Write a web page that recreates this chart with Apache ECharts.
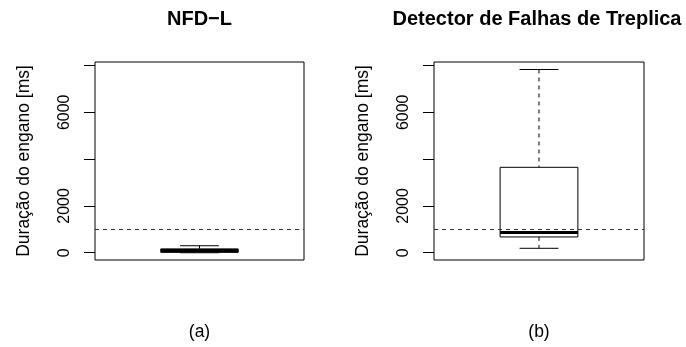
<!DOCTYPE html>
<html>
<head>
<meta charset="utf-8">
<script src="https://cdn.jsdelivr.net/npm/echarts@6/dist/echarts.min.js"></script>
<style>
html,body{margin:0;padding:0;background:#fff;}
#chart{width:686px;height:347px;}
</style>
</head>
<body>
<div id="chart"></div>
<script>
// ---- data ----
const panelTitles = ['NFD\u2212L', 'Detector de Falhas de Treplica'];
const panelCaptions = ['(a)', '(b)'];
const boxMin    = [0, 190];
const boxQ1     = [15, 675];
const boxMedian = [95, 870];
const boxQ3     = [165, 3650];
const boxMax    = [300, 7830];
const thresholdValue = 1000;
const yTickValues = [0, 2000, 4000, 6000, 8000];
const yLabelValues = [0, 2000, 6000];
const yAxisTitle = 'Duração do engano [ms]';

const FONT = "'Liberation Sans', Arial, Helvetica, sans-serif";
const chart = echarts.init(document.getElementById('chart'), null, {renderer: 'canvas'});

const grids = [
  {left: 95, top: 62, width: 209, height: 198},
  {left: 434, top: 62, width: 210, height: 198}
];
const titleX = [199.5, 537];

function renderBox(params, api) {
  const x = api.value(0);
  const mn = api.value(1), q1 = api.value(2), md = api.value(3), q3 = api.value(4), mx = api.value(5);
  const hb = 0.2, hc = 0.1;
  const pTL = api.coord([x - hb, q3]);
  const pBR = api.coord([x + hb, q1]);
  const pMdL = api.coord([x - hb, md]);
  const pMdR = api.coord([x + hb, md]);
  const pMax = api.coord([x, mx]);
  const pMin = api.coord([x, mn]);
  const cL = api.coord([x - hc, mx]), cR = api.coord([x + hc, mx]);
  const dL = api.coord([x - hc, mn]), dR = api.coord([x + hc, mn]);
  const solid = {stroke: '#000', lineWidth: 1, fill: null};
  const dashed = {stroke: '#000', lineWidth: 1, lineDash: [4, 4], fill: null};
  return {
    type: 'group',
    children: [
      {type: 'line', shape: {x1: pMax[0], y1: pMax[1], x2: pMax[0], y2: pTL[1]}, style: dashed},
      {type: 'line', shape: {x1: pMin[0], y1: pBR[1], x2: pMin[0], y2: pMin[1]}, style: dashed},
      {type: 'line', shape: {x1: cL[0], y1: cL[1], x2: cR[0], y2: cR[1]}, style: solid},
      {type: 'line', shape: {x1: dL[0], y1: dL[1], x2: dR[0], y2: dR[1]}, style: solid},
      {type: 'rect', shape: {x: pTL[0], y: pTL[1], width: pBR[0] - pTL[0], height: pBR[1] - pTL[1]}, style: {stroke: '#000', lineWidth: 1, fill: '#fff'}},
      {type: 'line', shape: {x1: pMdL[0], y1: pMdL[1], x2: pMdR[0], y2: pMdR[1]}, style: {stroke: '#000', lineWidth: 3}}
    ]
  };
}

const xAxes = [], yAxes = [], series = [], graphics = [];
for (let i = 0; i < 2; i++) {
  xAxes.push({type: 'value', gridIndex: i, min: 0.46, max: 1.54, show: false});
  yAxes.push({
    type: 'value', gridIndex: i, min: -310, max: 8150,
    splitLine: {show: false},
    axisLine: {show: false},
    axisTick: {show: true, length: 11, customValues: yTickValues, lineStyle: {color: '#000', width: 1}},
    axisLabel: {show: true, rotate: 90, margin: 22, customValues: yLabelValues,
      formatter: v => String(v),
      color: '#000', fontSize: 16, fontFamily: FONT},
    name: yAxisTitle, nameLocation: 'middle', nameRotate: 90, nameGap: 62,
    nameTextStyle: {color: '#000', fontSize: 17.5, fontFamily: FONT}
  });
  series.push({
    type: 'custom', xAxisIndex: i, yAxisIndex: i,
    renderItem: renderBox,
    encode: {x: 0, y: [1, 2, 3, 4, 5]},
    data: [[1, boxMin[i], boxQ1[i], boxMedian[i], boxQ3[i], boxMax[i]]],
    clip: false,
    z: 3,
    markLine: {
      silent: true, symbol: ['none', 'none'], label: {show: false},
      lineStyle: {color: '#333', type: [4, 4], width: 1},
      data: [{yAxis: thresholdValue}],
      animation: false
    }
  });
  const cx = grids[i].left + grids[i].width / 2;
  graphics.push({type: 'text', x: titleX[i], y: 19,
    style: {text: panelTitles[i], fontFamily: FONT, fontSize: 20, fontWeight: 'bold', fill: '#000',
      textAlign: 'center', textVerticalAlign: 'middle'}});
  graphics.push({type: 'text', x: cx, y: 332,
    style: {text: panelCaptions[i], fontFamily: FONT, fontSize: 17.5, fill: '#000',
      textAlign: 'center', textVerticalAlign: 'middle'}});
}

chart.setOption({
  animation: false,
  grid: grids.map(g => Object.assign({show: true, borderColor: '#000', borderWidth: 1, backgroundColor: 'transparent'}, g)),
  xAxis: xAxes,
  yAxis: yAxes,
  series: series,
  graphic: graphics
});
</script>
</body>
</html>
